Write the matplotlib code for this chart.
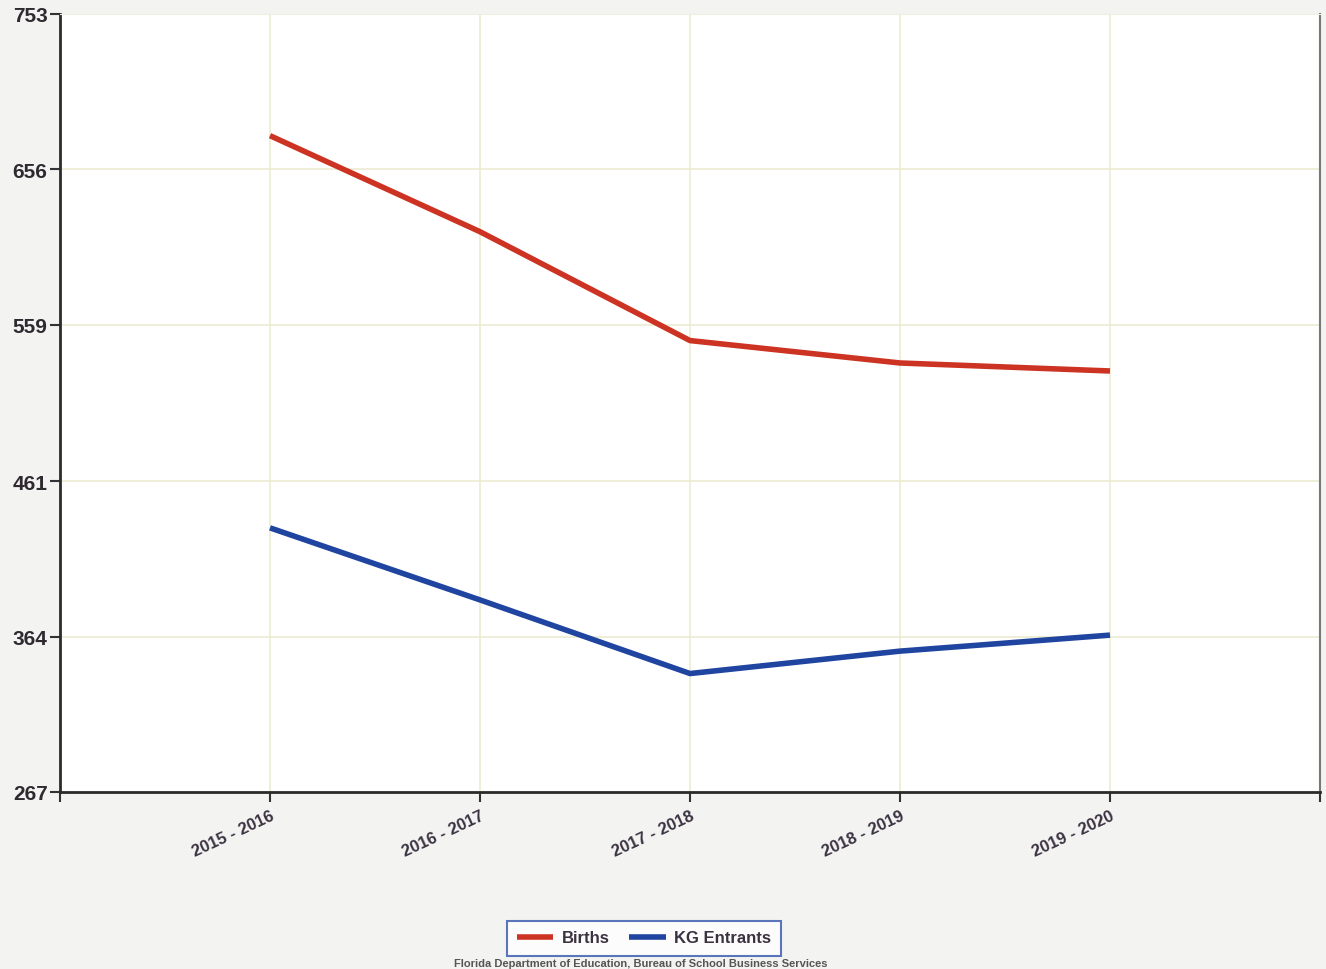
import matplotlib.pyplot as plt
import numpy as np

years = ["2015 - 2016", "2016 - 2017", "2017 - 2018", "2018 - 2019", "2019 - 2020"]
births = [677, 617, 549, 535, 530]
kg_entrants = [432, 387, 341, 355, 365]
y_ticks = [267, 364, 461, 559, 656, 753]

plt.rcParams["font.family"] = ["Liberation Sans", "DejaVu Sans"]

fig = plt.figure(figsize=(13.26, 9.70), dpi=100, facecolor="#f3f3f2")
ax = fig.add_axes([60 / 1326, 1 - 793 / 970, 1260 / 1326, 778 / 970])
ax.set_facecolor("white")

x = np.arange(1, len(years) + 1)
ax.plot(x, births, color="#cc3322", lw=4, solid_capstyle="butt", label="Births")
ax.plot(x, kg_entrants, color="#1f45a0", lw=4, solid_capstyle="butt", label="KG Entrants")

ax.set_xlim(0, 6)
ax.set_ylim(267, 753)
ax.set_xticks(np.arange(0, 7))
ax.set_xticklabels([""] + years + [""], rotation=25, ha="right", rotation_mode="anchor",
                   fontsize=12, fontweight="bold", color="#3a3240")
ax.set_yticks(y_ticks)
ax.set_yticklabels([str(v) for v in y_ticks], fontsize=15, fontweight="bold", color="#2e2a30")
ax.tick_params(axis="both", direction="out", length=7, width=1.5, color="#333333")
ax.tick_params(axis="x", pad=4)
ax.tick_params(axis="y", pad=2)
ax.grid(True, color="#ecebd2", lw=1.2)
ax.set_axisbelow(True)

for side in ["left", "bottom"]:
    ax.spines[side].set_color("#2b2b2b")
    ax.spines[side].set_linewidth(2)
ax.spines["right"].set_color("#777777")
ax.spines["right"].set_linewidth(1.5)
ax.spines["top"].set_color("#f0efe0")

leg = fig.legend(loc="center", bbox_to_anchor=(644 / 1326, 1 - 939 / 970), ncol=2,
                 frameon=True, fancybox=False, handlelength=2.2, borderpad=0.6,
                 handletextpad=0.5, columnspacing=1.2, prop={"weight": "bold", "size": 12})
leg.get_frame().set_edgecolor("#3355aa")
leg.get_frame().set_linewidth(1.5)
for t in leg.get_texts():
    t.set_color("#3a3240")

fig.text(0.483, 1 - 964 / 970, "Florida Department of Education, Bureau of School Business Services",
         ha="center", va="center", fontsize=8, fontweight="bold", color="#555555")

fig.savefig("out.png", dpi=100, facecolor=fig.get_facecolor())
